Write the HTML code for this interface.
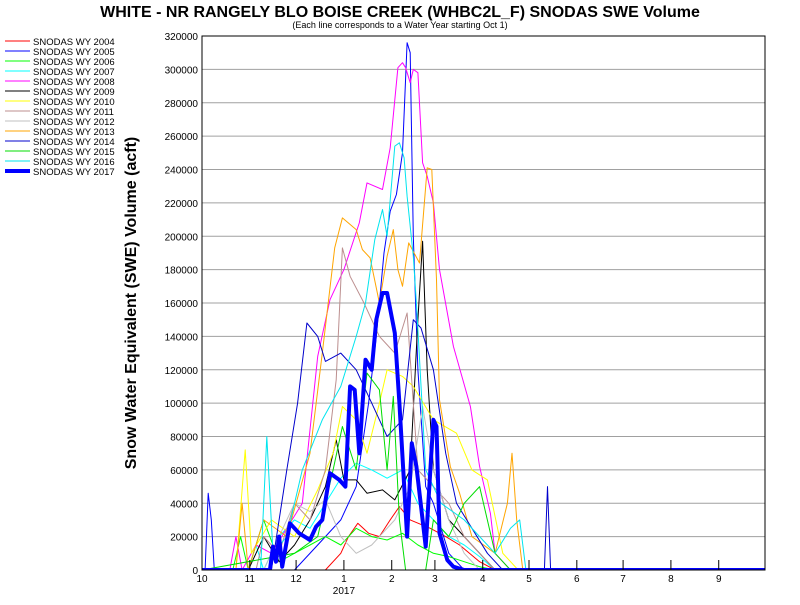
<!DOCTYPE html>
<html><head><meta charset="utf-8"><style>
body{margin:0;background:#fff;width:800px;height:600px;overflow:hidden}
svg{font-family:"Liberation Sans",sans-serif}
</style></head><body>
<svg id="chart" width="800" height="600" viewBox="0 0 800 600">
<rect width="800" height="600" fill="#fff"/>
<text x="400" y="17" text-anchor="middle" font-size="16" font-weight="bold">WHITE - NR RANGELY BLO BOISE CREEK (WHBC2L_F) SNODAS SWE Volume</text>
<text x="400" y="28" text-anchor="middle" font-size="9">(Each line corresponds to a Water Year starting Oct 1)</text>
<text transform="translate(136,303) rotate(-90)" text-anchor="middle" font-size="16" font-weight="bold">Snow Water Equivalent (SWE) Volume (acft)</text>
<g id="grid"></g><g id="series"></g><g id="axes"></g><g id="legend"></g>
</svg>
<script>
const yTicks=[0,20000,40000,60000,80000,100000,120000,140000,160000,180000,200000,220000,240000,260000,280000,300000,320000];
const xTickDays=[0,31,61,92,123,151,182,212,243,273,304,335];
const xTickLabels=["10","11","12","1","2","3","4","5","6","7","8","9"];
const seriesNames=["SNODAS WY 2004","SNODAS WY 2005","SNODAS WY 2006","SNODAS WY 2007","SNODAS WY 2008","SNODAS WY 2009","SNODAS WY 2010","SNODAS WY 2011","SNODAS WY 2012","SNODAS WY 2013","SNODAS WY 2014","SNODAS WY 2015","SNODAS WY 2016","SNODAS WY 2017"];
const seriesColors=["#ff0000","#0000ff","#00ff00","#00ffff","#ff00ff","#000000","#ffff00","#bc8f8f","#c0c0c0","#ffa500","#0000cc","#00dd00","#00e5ee","#0000ff"];
const d2004=[0,80,90,95,101,108,115,122,128,135,148,158,167,180,190,365];
const v2004=[0,0,10000,20000,28000,22000,20000,30000,38000,30000,25000,20000,15000,5000,0,0];
const d2005=[0,2,4,6,8,60,75,90,100,108,113,118,122,126,130,133,135,137,140,145,150,160,170,365];
const v2005=[0,0,46000,30000,0,0,15000,30000,50000,100000,140000,190000,215000,225000,250000,316000,310000,200000,120000,50000,40000,10000,0,0];
const d2006=[0,20,25,30,40,50,60,70,80,90,100,110,120,130,140,150,160,170,180,190,365];
const v2006=[0,0,20000,0,30000,5000,10000,15000,20000,15000,25000,20000,18000,22000,15000,10000,8000,5000,2000,0,0];
const d2007=[0,30,35,40,50,60,70,80,90,100,110,120,130,140,150,160,170,180,190,365];
const v2007=[0,0,15000,0,20000,30000,25000,40000,55000,64000,60000,55000,60000,40000,30000,20000,15000,8000,0,0];
const d2008=[0,18,22,26,35,45,55,65,75,83,92,102,107,117,122,127,130,132,135,137,140,143,146,150,154,163,174,180,187,190,200,365];
const v2008=[0,0,20000,0,15000,10000,25000,40000,128000,162000,180000,208000,232000,228000,253000,301000,304000,301000,292000,300000,298000,244000,236000,220000,180000,134000,98000,62000,34000,10000,0,0];
const d2009=[0,30,40,50,60,70,80,87,92,100,107,117,125,135,140,143,146,150,160,170,180,190,365];
const v2009=[0,0,20000,5000,15000,30000,50000,78000,54000,54000,46000,48000,42000,60000,150000,197000,120000,60000,30000,20000,10000,0,0];
const d2010=[0,22,28,32,45,60,75,85,91,100,107,115,120,130,137,150,165,175,185,195,205,365];
const v2010=[0,0,72000,10000,30000,20000,48000,70000,98000,90000,70000,100000,120000,116000,110000,90000,82000,60000,54000,10000,0,0];
const d2011=[0,35,40,50,60,70,80,87,91,96,105,115,125,133,140,150,160,170,180,190,365];
const v2011=[0,0,20000,10000,40000,30000,60000,114000,193000,176000,160000,140000,130000,154000,60000,50000,40000,20000,10000,0,0];
const d2012=[0,40,50,60,70,80,90,100,110,125,135,143,150,160,170,180,365];
const v2012=[0,0,20000,40000,35000,42000,20000,10000,15000,30000,50000,98000,60000,30000,10000,0,0];
const d2013=[0,22,26,30,40,55,70,78,86,91,100,104,109,115,120,124,127,130,134,141,146,149,152,154,161,167,175,190,198,201,204,208,365];
const v2013=[0,0,40000,0,30000,20000,70000,130000,193000,211000,204000,192000,187000,160000,188000,204000,180000,170000,196000,184000,241000,240000,174000,102000,62000,46000,20000,10000,40000,70000,30000,0,0];
const d2014=[0,45,55,62,68,75,80,90,100,110,120,130,137,142,150,158,165,175,185,195,222,224,226,365];
const v2014=[0,0,60000,100000,148000,140000,125000,130000,120000,100000,80000,90000,150000,145000,120000,70000,40000,25000,10000,0,0,50000,0,0];
const d2015=[0,60,75,85,91,100,107,115,120,124,128,132,145,150,160,170,180,190,200,365];
const v2015=[0,10000,20000,60000,86000,60000,118000,108000,60000,104000,30000,0,0,30000,20000,40000,50000,10000,0,0];
const d2016=[0,38,42,46,55,65,78,90,100,106,112,117,120,125,128,131,133,137,139,145,155,170,180,190,200,206,210,365];
const v2016=[0,0,80000,10000,20000,60000,90000,110000,140000,160000,198000,216000,200000,254000,256000,247000,224000,188000,160000,60000,40000,30000,20000,10000,25000,30000,0,0];
const d2017=[0,44,46,48,50,52,57,63,70,74,78,83,89,93,96,99,102,106,110,113,117,120,125,128,133,136,139,143,145,150,152,154,159,163,170,365];
const v2017=[0,0,14000,5000,20000,2000,28000,22000,18000,26000,30000,58000,54000,50000,110000,108000,70000,126000,120000,150000,166000,166000,142000,100000,20000,76000,62000,30000,14000,90000,86000,22000,6000,2000,0,0];
const allDays=[d2004,d2005,d2006,d2007,d2008,d2009,d2010,d2011,d2012,d2013,d2014,d2015,d2016,d2017];
const allVals=[v2004,v2005,v2006,v2007,v2008,v2009,v2010,v2011,v2012,v2013,v2014,v2015,v2016,v2017];

const L=202,R=765,T=36,B=570;
const xs=d=>L+d*(R-L)/365;
const ys=v=>B-v/320000*(B-T);
const NS="http://www.w3.org/2000/svg";
function mk(tag,attrs,parent){const e=document.createElementNS(NS,tag);for(const k in attrs)e.setAttribute(k,attrs[k]);parent.appendChild(e);return e;}
const grid=document.getElementById('grid'),axes=document.getElementById('axes'),ser=document.getElementById('series'),leg=document.getElementById('legend');
yTicks.forEach(v=>{
  const y=ys(v);
  if(v>0&&v<320000){const g=mk('line',{x1:L,x2:R,y1:y,y2:y,stroke:'#a0a0a0','stroke-width':1},grid);
  
  }
  const t=mk('text',{x:L-4,y:y+4,'text-anchor':'end','font-size':10},axes);
  t.textContent=String(v);
  
  
});
xTickDays.forEach((d,i)=>{
  const x=xs(d);
  const tk=mk('line',{x1:x,x2:x,y1:B,y2:B-10,stroke:'#000','stroke-width':1},axes);
  
  
  const t=mk('text',{x:x,y:B+12,'text-anchor':'middle','font-size':10},axes);
  t.textContent=xTickLabels[i];
  
  
});
const yr=mk('text',{x:xs(92),y:B+24,'text-anchor':'middle','font-size':10},axes);
yr.textContent='2017';


const clip=mk('clipPath',{id:'pc'},document.getElementById('chart'));
mk('rect',{x:L,y:T,width:R-L,height:B-T},clip);
ser.setAttribute('clip-path','url(#pc)');
allDays.forEach((ds,i)=>{
  const vs=allVals[i];
  const pts=ds.map((d,j)=>xs(d).toFixed(1)+','+ys(vs[j]).toFixed(1)).join(' ');
  const p=mk('polyline',{points:pts,fill:'none',stroke:seriesColors[i],'stroke-width':i===13?4:1,'stroke-linejoin':'round'},ser);
  
  
});
const frame=mk('rect',{x:L,y:T,width:R-L,height:B-T,fill:'none',stroke:'#000','stroke-width':1},axes);


seriesNames.forEach((n,i)=>{
  const y=41+i*10;
  const ln=mk('line',{x1:5,x2:30,y1:y,y2:y,stroke:seriesColors[i],'stroke-width':i===13?4:1},leg);
  
  
  const t=mk('text',{x:33,y:y+4,'font-size':9.5},leg);
  t.textContent=n;
  
  
});
</script>
</body></html>
